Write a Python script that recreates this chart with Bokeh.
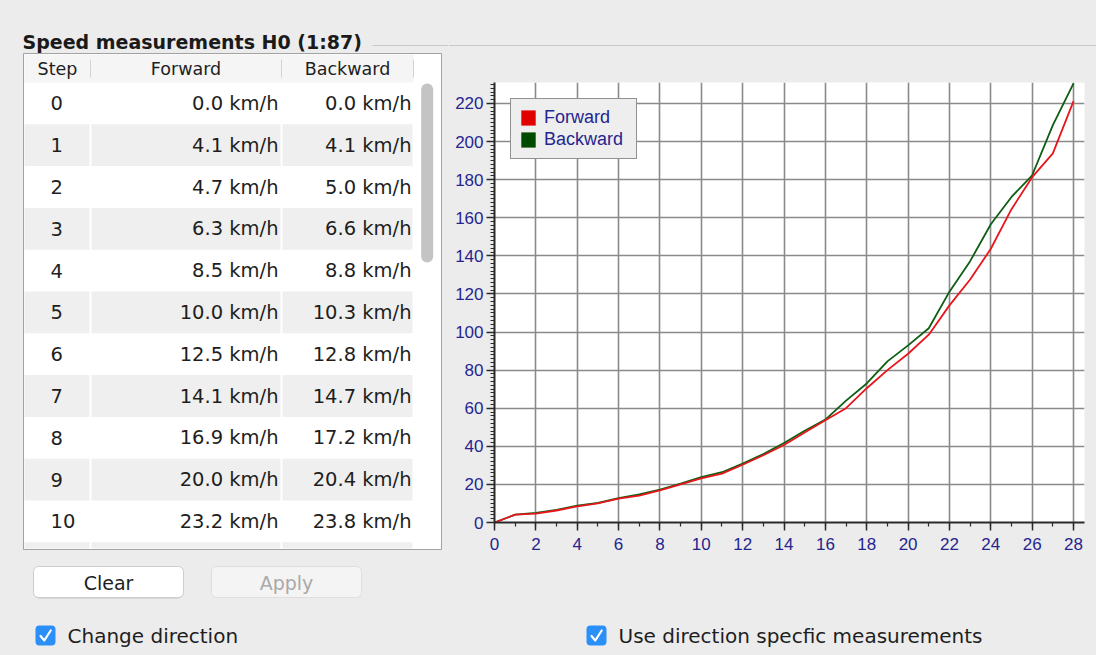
from bokeh.plotting import figure
from bokeh.layouts import row, column
from bokeh.models import Range1d, SingleIntervalTicker, Legend, LegendItem
from bokeh.embed import file_html
from bokeh.resources import INLINE
from bokeh.core.properties import value

# ---------------- data ----------------
steps = list(range(29))
forward = [0.0, 4.1, 4.7, 6.3, 8.5, 10.0, 12.5, 14.1, 16.9, 20.0, 23.2,
           25.7, 30.3, 35.3, 40.7, 47.2, 53.7, 60.0, 70.5, 80.0, 88.6,
           98.6, 114.0, 127.6, 143.7, 164.5, 181.3, 193.8, 221.2]
backward = [0.0, 4.1, 5.0, 6.6, 8.8, 10.3, 12.8, 14.7, 17.2, 20.4, 23.8,
            26.4, 30.9, 35.9, 41.7, 48.2, 54.0, 64.0, 73.0, 84.6, 93.0,
            102.0, 121.2, 137.2, 156.6, 170.9, 182.3, 208.6, 230.5]
headers = ["Step", "Forward", "Backward"]
visible_rows = 11
title_text = "Speed measurements H0 (1:87)"
series_names = ["Forward", "Backward"]
button_labels = ["Clear", "Apply"]
checkbox_labels = ["Change direction", "Use direction specfic measurements"]

# ---------------- styles ----------------
BG = "#ececec"
UI = value("DejaVu Sans")
TXT = "#1e1e1e"
RED = "#e8161b"
GREEN = "#0d5e12"
LEG_RED = "#e00000"
LEG_GREEN = "#004a00"
NAVY = "#25258f"
BLUE = "#2a8ff7"
NAN = float("nan")


def panel(w, h, x0, x1, y_top, y_bot):
    p = figure(width=w, height=h, x_range=Range1d(x0, x1),
               y_range=Range1d(y_bot, y_top), x_axis_type=None,
               y_axis_type=None, toolbar_location=None, output_backend="svg",
               min_border=0, background_fill_color=BG, border_fill_color=BG,
               outline_line_color=None)
    p.min_border_left = p.min_border_right = 0
    p.min_border_top = p.min_border_bottom = 0
    p.frame_align = False
    return p


def checkbox(p, x, y, label):
    p.quad(left=[x], right=[x + 20], top=[y], bottom=[y + 20],
           fill_color=BLUE, line_color=None, border_radius=4)
    p.line(x=[x + 5, x + 8.8, x + 15.2], y=[y + 10.5, y + 15, y + 5],
           line_color="white", line_width=2.2, line_cap="round",
           line_join="round")
    p.text(x=[x + 32], y=[y + 10.5], text=[label], text_font=UI,
           text_font_size="20px", text_color=TXT, text_align="left",
           text_baseline="middle")


# ---------------- left panel: title, table, buttons ----------------
left = panel(448, 655, 0, 448, 0, 655)
left.segment(x0=[372], y0=[45], x1=[448], y1=[45], line_color="#c9c9c9",
             line_width=1)

# table frame
left.quad(left=[23], right=[441], top=[53], bottom=[549], fill_color="white",
          line_color="#a3a3a3", line_width=1)
left.quad(left=[24], right=[413], top=[54], bottom=[82], fill_color="#f5f5f5",
          line_color=None)
left.segment(x0=[90, 281, 413], y0=[59, 59, 59], x1=[90, 281, 413],
             y1=[77, 77, 77], line_color="#d3d3d3", line_width=1)
left.text(x=[57, 185.5, 347], y=[68.5, 68.5, 68.5], text=headers, text_font=UI,
          text_font_size="17.5px", text_color=TXT, text_align="center",
          text_baseline="middle")

row_top, row_h, tbl_bot = 82.0, 41.8, 548.0
cells = [(24, 89), (91, 280), (282, 412)]
gl, gr, gt, gb = [], [], [], []
for i in range(visible_rows + 1):
    if i % 2 == 1:
        t = row_top + i * row_h
        b = min(t + row_h, tbl_bot)
        for (cl, cr) in cells:
            gl.append(cl); gr.append(cr); gt.append(t); gb.append(b)
left.quad(left=gl, right=gr, top=gt, bottom=gb, fill_color="#efefef",
          line_color=None)

ty = [row_top + row_h * (i + 0.5) for i in range(visible_rows)]
left.text(x=[50] * visible_rows, y=ty, text=[str(s) for s in steps[:visible_rows]],
          text_font=UI, text_font_size="19.5px", text_color=TXT,
          text_align="left", text_baseline="middle")
left.text(x=[278] * visible_rows, y=ty,
          text=["%.1f km/h" % v for v in forward[:visible_rows]],
          text_font=UI, text_font_size="19.5px", text_color=TXT,
          text_align="right", text_baseline="middle")
left.text(x=[411] * visible_rows, y=ty,
          text=["%.1f km/h" % v for v in backward[:visible_rows]],
          text_font=UI, text_font_size="19.5px", text_color=TXT,
          text_align="right", text_baseline="middle")

# scrollbar thumb
left.segment(x0=[426.7], y0=[89], x1=[426.7], y1=[256], line_color="#c4c4c4",
             line_width=12, line_cap="round")

# title (drawn over the frame)
left.text(x=[22], y=[41], text=[title_text], text_font=UI,
          text_font_size="19px", text_font_style="bold", text_color="#1a1a1a",
          text_align="left", text_baseline="middle")

# buttons
left.quad(left=[33], right=[183], top=[567], bottom=[598], fill_color="#c4c4c4",
          line_color=None, border_radius=6)
left.quad(left=[33], right=[183], top=[566], bottom=[597], fill_color="white",
          line_color="#cdcdcd", line_width=1, border_radius=5)
left.quad(left=[211], right=[361], top=[566], bottom=[597], fill_color="#f4f4f4",
          line_color="#dedede", line_width=1, border_radius=5)
left.text(x=[108, 286], y=[582, 582], text=button_labels, text_font=UI,
          text_font_size="19px", text_color=[TXT, "#a9a9a9"],
          text_align="center", text_baseline="middle")
checkbox(left, 35, 625, checkbox_labels[0])

# ---------------- right panel ----------------
rtop = panel(648, 68, 448, 1096, 0, 68)
rtop.segment(x0=[448], y0=[45], x1=[1096], y1=[45], line_color="#c9c9c9",
             line_width=1)

chart = figure(width=648, height=492, x_range=Range1d(0, 28.53),
               y_range=Range1d(0, 231), toolbar_location=None,
               output_backend="svg", background_fill_color="white",
               border_fill_color=BG, outline_line_color=None)
chart.frame_align = False
chart.min_border_left = 46
chart.min_border_right = 12
chart.min_border_top = 14
chart.min_border_bottom = 38

xt = SingleIntervalTicker(interval=2, num_minor_ticks=2)
yt = SingleIntervalTicker(interval=20, num_minor_ticks=10)
chart.xaxis.ticker = xt
chart.yaxis.ticker = yt
chart.xgrid.ticker = xt
chart.ygrid.ticker = yt
for g in (chart.xgrid, chart.ygrid):
    g.grid_line_color = "#8a8a8a"
    g.grid_line_width = 1.6
for ax in (chart.xaxis, chart.yaxis):
    ax.axis_line_color = "#2a2a2a"
    ax.axis_line_width = 2
    ax.major_tick_line_color = "#2a2a2a"
    ax.minor_tick_line_color = "#2a2a2a"
    ax.major_tick_line_width = 1.5
    ax.minor_tick_line_width = 1.2
    ax.major_tick_in = 0
    ax.minor_tick_in = 0
    ax.major_label_text_font = "Liberation Sans"
    ax.major_label_text_font_size = "17px"
    ax.major_label_text_color = NAVY
chart.xaxis.major_tick_out = 8
chart.xaxis.minor_tick_out = 4
chart.xaxis.major_label_standoff = 7
chart.yaxis.major_tick_out = 8
chart.yaxis.minor_tick_out = 4
chart.yaxis.major_label_standoff = 3

chart.line(steps, backward, line_color=GREEN, line_width=1.8)
chart.line(steps, forward, line_color=RED, line_width=1.8)

rq = chart.quad(left=[NAN], right=[NAN], top=[NAN], bottom=[NAN],
                fill_color=LEG_RED, line_color=None)
gq = chart.quad(left=[NAN], right=[NAN], top=[NAN], bottom=[NAN],
                fill_color=LEG_GREEN, line_color=None)
legend = Legend(items=[LegendItem(label=series_names[0], renderers=[rq]),
                       LegendItem(label=series_names[1], renderers=[gq])],
                location="top_left", margin=16, padding=8, spacing=1,
                glyph_width=18, glyph_height=19, label_width=84,
                label_height=18, label_standoff=7,
                label_text_font="Liberation Sans",
                label_text_font_size="18px", label_text_color=NAVY,
                border_line_color="#333333", border_line_width=1.5,
                background_fill_color="#eeeeee", background_fill_alpha=1.0)
chart.add_layout(legend)

rbot = panel(648, 95, 448, 1096, 560, 655)
checkbox(rbot, 586, 625, checkbox_labels[1])

right = column(rtop, chart, rbot, styles={"background-color": BG})
p = row(left, right, styles={"background-color": BG})
open("out.html", "w").write(file_html(p, INLINE))
